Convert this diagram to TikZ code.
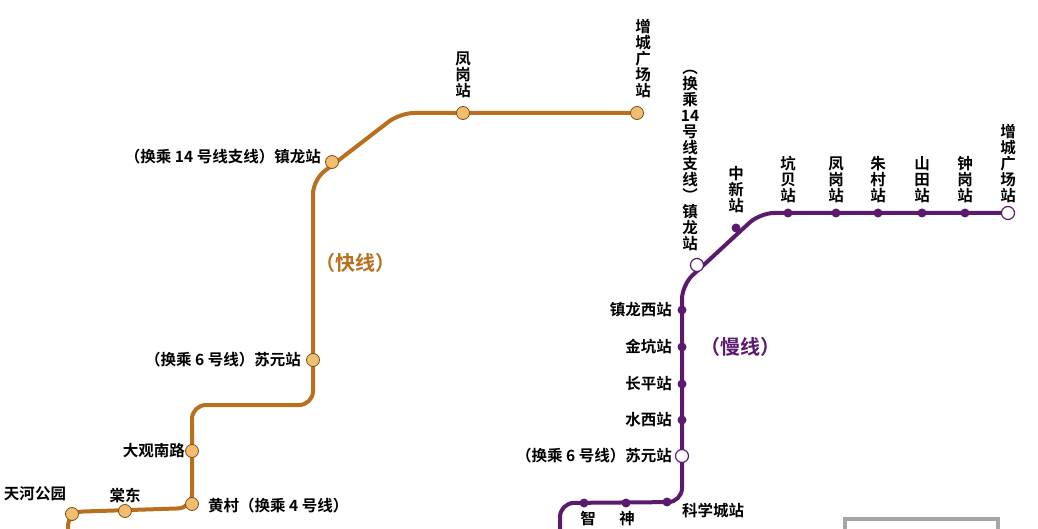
\documentclass[tikz,border=0pt]{standalone}
\usepackage{fontspec}
\setmainfont{Noto Sans CJK SC}[BoldFont={* Bold}]
\definecolor{orl}{HTML}{B8701E}
\definecolor{ord}{HTML}{F0BE6E}
\definecolor{pul}{HTML}{5A1A6E}
\begin{document}
\begin{tikzpicture}[x=1pt,y=-1pt,
  lab/.style={font=\fontsize{15.5}{16}\selectfont\bfseries, inner sep=1pt},
  vlab/.style={lab, align=center, anchor=south},
  odot/.style={circle, draw=orl!70!black, fill=ord, line width=0.8pt, minimum size=13pt, inner sep=0pt},
  pdot/.style={circle, fill=pul, minimum size=9pt, inner sep=0pt},
  popen/.style={circle, draw=pul, fill=white, line width=1.2pt, minimum size=13pt, inner sep=0pt},
  oline/.style={draw=orl, line width=4pt, rounded corners=14pt},
  pline/.style={draw=pul, line width=4pt, rounded corners=14pt}]
\useasboundingbox (0,0) rectangle (1038,529);
\fill[white] (0,0) rectangle (1038,529);
\coordinate (o0) at (68,529);
\draw[oline] (o0) -- (68,512) -- (192,508) -- (192,405) -- (313,405) -- (313,180) -- (400,113) -- (637,113);
\node[odot] (tianhe) at (72,514) {};
\node[odot] (tangdong) at (125,511) {};
\node[odot] (huangcun) at (192,504) {};
\node[odot] (daguan) at (192,451) {};
\node[odot] (suyuanO) at (313,360) {};
\node[odot] (zhenlongO) at (332,162) {};
\node[odot] (fenggangO) at (463,113) {};
\node[odot] (zcO) at (637,113) {};
\node[lab] (t1) at (35,494) {天河公园};
\node[lab] (t2) at (125,496) {棠东};
\node[lab,anchor=west] (t3) at (207,506) {黄村（换乘 4 号线）};
\node[lab,anchor=east] (t4) at (186,451) {大观南路};
\node[lab,anchor=east] (t5) at (302,360) {（换乘 6 号线）苏元站};
\node[lab,anchor=east] (t6) at (322,157) {（换乘 14 号线支线）镇龙站};
\node[vlab] (t7) at (463,99) {凤\\岗\\站};
\node[vlab] (t8) at (643,99) {增\\城\\广\\场\\站};
\node[font=\fontsize{20}{22}\selectfont\bfseries, text=orl] (kx) at (355,263) {（快线）};
\coordinate (p0) at (560,529);
\draw[pline] (p0) -- (560,503) -- (682,502) -- (682,285) -- (760,213) -- (1008,213);
\node[pdot] (zhi) at (584,503) {};
\node[pdot] (shen) at (626,503) {};
\node[pdot] (kxc) at (667,502) {};
\node[popen] (suyuanP) at (682,456) {};
\node[pdot] (shuixi) at (682,420) {};
\node[pdot] (changping) at (682,384) {};
\node[pdot] (jinkeng) at (682,347) {};
\node[pdot] (zlx) at (682,310) {};
\node[popen] (zhenlongP) at (697,265) {};
\node[pdot] (zhongxin) at (736,228) {};
\node[pdot] (kengbei) at (788,213) {};
\node[pdot] (fgP) at (836,213) {};
\node[pdot] (zhucun) at (878,213) {};
\node[pdot] (shantian) at (922,213) {};
\node[pdot] (zhonggang) at (965,213) {};
\node[popen] (zcP) at (1008,213) {};
\node[lab,anchor=east] (q1) at (673,310) {镇龙西站};
\node[lab,anchor=east] (q2) at (673,347) {金坑站};
\node[lab,anchor=east] (q3) at (673,384) {长平站};
\node[lab,anchor=east] (q4) at (673,420) {水西站};
\node[lab,anchor=east] (q5) at (673,456) {（换乘 6 号线）苏元站};
\node[lab,anchor=west] (q6) at (681,511) {科学城站};
\node[lab,anchor=north] (q7) at (588,510) {智};
\node[lab,anchor=north] (q8) at (627,510) {神};
\node[vlab] (q9) at (690,252) {︵\\换\\乘\\14\\号\\线\\支\\线\\︶\\镇\\龙\\站};
\node[vlab] (q10) at (736,214) {中\\新\\站};
\node[vlab] (q11) at (788,204) {坑\\贝\\站};
\node[vlab] (q12) at (836,204) {凤\\岗\\站};
\node[vlab] (q13) at (878,204) {朱\\村\\站};
\node[vlab] (q14) at (922,204) {山\\田\\站};
\node[vlab] (q15) at (965,204) {钟\\岗\\站};
\node[vlab] (q16) at (1008,204) {增\\城\\广\\场\\站};
\node[font=\fontsize{20}{22}\selectfont\bfseries, text=pul] (mx) at (740,347) {（慢线）};
\draw[gray!70, line width=4pt] (845,519) rectangle (998,535);
\end{tikzpicture}
\end{document}
